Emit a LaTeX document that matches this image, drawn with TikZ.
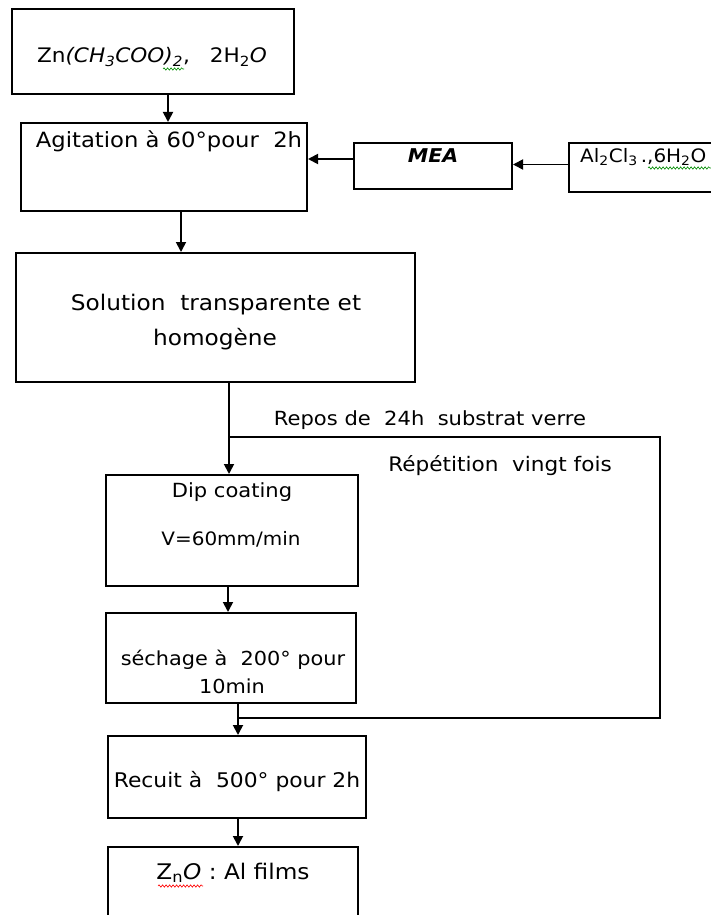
\documentclass[tikz,border=0pt]{standalone}
\usepackage{fontspec}
\setmainfont[FakeStretch=1.08]{DejaVu Sans}
\usetikzlibrary{arrows.meta,decorations.pathmorphing}
\begin{document}
\begin{tikzpicture}[x=1pt,y=-1pt,
  box/.style={draw=black,line width=2pt,inner sep=0pt},
  txt/.style={inner sep=0pt,anchor=base,font=\fontsize{21.5}{26}\selectfont},
  fs/.style={font=\fontsize{#1}{#1}\selectfont},
  arr/.style={line width=1.8pt,-{Triangle[length=10pt,width=10pt]}},
  link/.style={line width=1.8pt},
  squig/.style={line width=0.6pt,decorate,decoration={snake,amplitude=1.2pt,segment length=3.5pt}}
]
\useasboundingbox (0,0) rectangle (711,915);
\fill[white] (0,0) rectangle (711,915);
\clip (0,0) rectangle (711,915);

% boxes
\node[box,minimum width=282pt,minimum height=85pt] (zn) at (153,51.5) {};
\node[box,minimum width=286pt,minimum height=88pt] (agit) at (164,167) {};
\node[box,minimum width=158pt,minimum height=46pt] (mea) at (433,166) {};
\node[box,minimum width=191pt,minimum height=49pt] (al) at (664.5,167.5) {};
\node[box,minimum width=399pt,minimum height=129pt] (sol) at (215.5,317.5) {};
\node[box,minimum width=252pt,minimum height=111pt] (dip) at (232,530.5) {};
\node[box,minimum width=250pt,minimum height=90pt] (sech) at (231,658) {};
\node[box,minimum width=258pt,minimum height=82pt] (rec) at (237,777) {};
\node[box,minimum width=250pt,minimum height=113pt] (zno) at (233,903.5) {};

% texts
\node[txt,fs=20] (tzn) at (152,63) {Zn\textit{(CH\textsubscript{3}COO)\textsubscript{2}},\quad 2H\textsubscript{2}\textit{O}};
\node[txt,fs=21] (tagit) at (169,147) {Agitation à 60°pour\ \ 2h};
\node[txt,font=\fontsize{19}{22}\selectfont\bfseries\itshape] (tmea) at (433,162) {MEA};
\node[txt,anchor=base west,fs=18.5] (tal) at (580,162) {Al\textsubscript{2}Cl\textsubscript{3}\,.,6H\textsubscript{2}O};
\node[txt] (tsol1) at (216,310) {Solution\ \ transparente et};
\node[txt] (tsol2) at (215,345) {homogène};
\node[txt,fs=19.5] (tdip1) at (232,497) {Dip coating};
\node[txt,fs=18.5] (tdip2) at (231,545) {V=60mm/min};
\node[txt,fs=19.3] (tsech1) at (233,665) {séchage à\ \ 200° pour};
\node[txt,fs=19.3] (tsech2) at (232,693) {10min};
\node[txt,fs=20.2] (trec) at (237,787) {Recuit à\ \ 500° pour 2h};
\node[txt] (tzno) at (233,879) {Z\textsubscript{n}\textit{O} : Al films};
\node[txt,fs=19.5] (trepos) at (430,425) {Repos de\ \ 24h\ \ substrat verre};
\node[txt,fs=20] (trep) at (500,471) {Répétition\ \ vingt fois};

% connectors
\coordinate (a1) at ([xshift=15pt]zn.south);
\draw[arr] (a1) -- (a1 |- agit.north);
\coordinate (a2) at ([xshift=17pt]agit.south);
\draw[arr] (a2) -- (a2 |- sol.north);
\coordinate (a3) at ([yshift=3pt]al.west);
\draw[arr] (a3) -- (a3 -| mea.east);
\coordinate (a4) at ([yshift=7pt]mea.west);
\draw[arr] (a4) -- (a4 -| agit.east);
\coordinate (a5) at ([xshift=13.5pt]sol.south);
\draw[arr] (a5) -- (a5 |- dip.north);
\coordinate (a6) at ([xshift=-4pt]dip.south);
\draw[arr] (a6) -- (a6 |- sech.north);
\coordinate (a7) at ([xshift=7pt]sech.south);
\draw[arr] (a7) -- (a7 |- rec.north);
\coordinate (a8) at ([xshift=1pt]rec.south);
\draw[arr] (a8) -- (a8 |- zno.north);

% repetition loop
\coordinate (lt) at (660,437);
\coordinate (lb) at (660,718);
\coordinate (br) at (a5 |- lt);
\coordinate (jn) at (a7 |- lb);
\draw[link] (br) -- (lt) -- (lb) -- (jn);

% spell-check squiggles
\draw[squig,green!55!black] (163,69) -- (184,69);
\draw[squig,green!55!black] (648,168) -- (711,168);
\draw[squig,red] (158,886) -- (203,886);
\end{tikzpicture}
\end{document}
